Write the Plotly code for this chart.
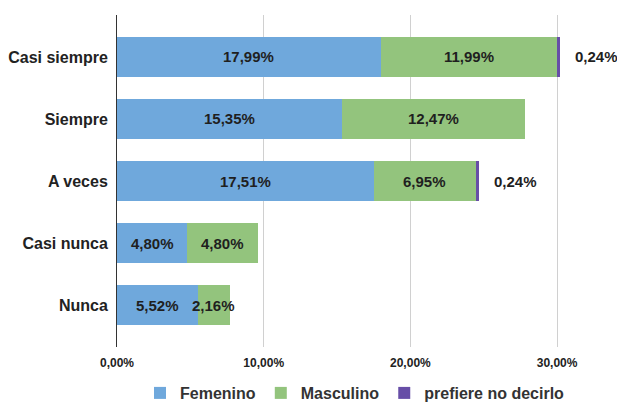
import plotly.graph_objects as go

categories = ["Casi siempre", "Siempre", "A veces", "Casi nunca", "Nunca"]
femenino = [17.99, 15.35, 17.51, 4.80, 5.52]
masculino = [11.99, 12.47, 6.95, 4.80, 2.16]
prefiere = [0.24, 0.0, 0.24, 0.0, 0.0]
x_ticks = [0, 10, 20, 30]
x_tick_labels = ["0,00%", "10,00%", "20,00%", "30,00%"]

series = [
    ("Femenino", femenino, "#6fa8dc"),
    ("Masculino", masculino, "#93c47d"),
    ("prefiere no decirlo", prefiere, "#674ea7"),
]

FONT = "Arial, Liberation Sans, sans-serif"

def fmt(v):
    return f"{v:.2f}".replace(".", ",") + "%"

fig = go.Figure()
for name, vals, col in series:
    fig.add_trace(go.Bar(
        y=categories, x=vals, name=name, orientation="h",
        marker=dict(color=col, line=dict(width=0)),
        width=0.65, cliponaxis=False, hoverinfo="skip",
    ))

annotations = []
lab_font = dict(family=FONT, size=15, color="#1f1f1f")
for i, cat in enumerate(categories):
    f, m, p = femenino[i], masculino[i], prefiere[i]
    annotations.append(dict(x=f / 2, y=cat, text=f"<b>{fmt(f)}</b>", showarrow=False, font=lab_font))
    annotations.append(dict(x=f + m / 2, y=cat, text=f"<b>{fmt(m)}</b>", showarrow=False, font=lab_font))
    if p > 0:
        annotations.append(dict(x=f + m + p, y=cat, text=f"<b>{fmt(p)}</b>", showarrow=False,
                                xanchor="left", xshift=13, font=lab_font))

fig.update_layout(
    width=617, height=403,
    margin=dict(l=117, r=24, t=15, b=56),
    barmode="stack",
    plot_bgcolor="white", paper_bgcolor="white",
    font=dict(family=FONT, size=12, color="#222"),
    annotations=annotations,
    legend=dict(orientation="h", x=0.5, xanchor="center",
                yref="container", y=1 - 393 / 403, yanchor="middle",
                font=dict(family=FONT, size=16, color="#333", weight="bold"),
                traceorder="normal", itemwidth=30),
    xaxis=dict(range=[0, 32.45], tickvals=x_ticks, ticktext=x_tick_labels,
               showgrid=True, gridcolor="#d0d0d0", gridwidth=1, zeroline=False,
               ticks="outside", ticklen=5, tickcolor="rgba(0,0,0,0)",
               tickfont=dict(family=FONT, size=12, color="#222", weight="bold"),
               showline=False, fixedrange=True, automargin=False),
    yaxis=dict(categoryorder="array", categoryarray=categories,
               range=[4.677, -0.677], showgrid=False, zeroline=False,
               showline=True, linecolor="#333", linewidth=1,
               ticks="outside", ticklen=5, tickcolor="rgba(0,0,0,0)",
               tickfont=dict(family=FONT, size=16, color="#222", weight="bold"),
               fixedrange=True, automargin=False),
)

fig.write_html("out.html")
